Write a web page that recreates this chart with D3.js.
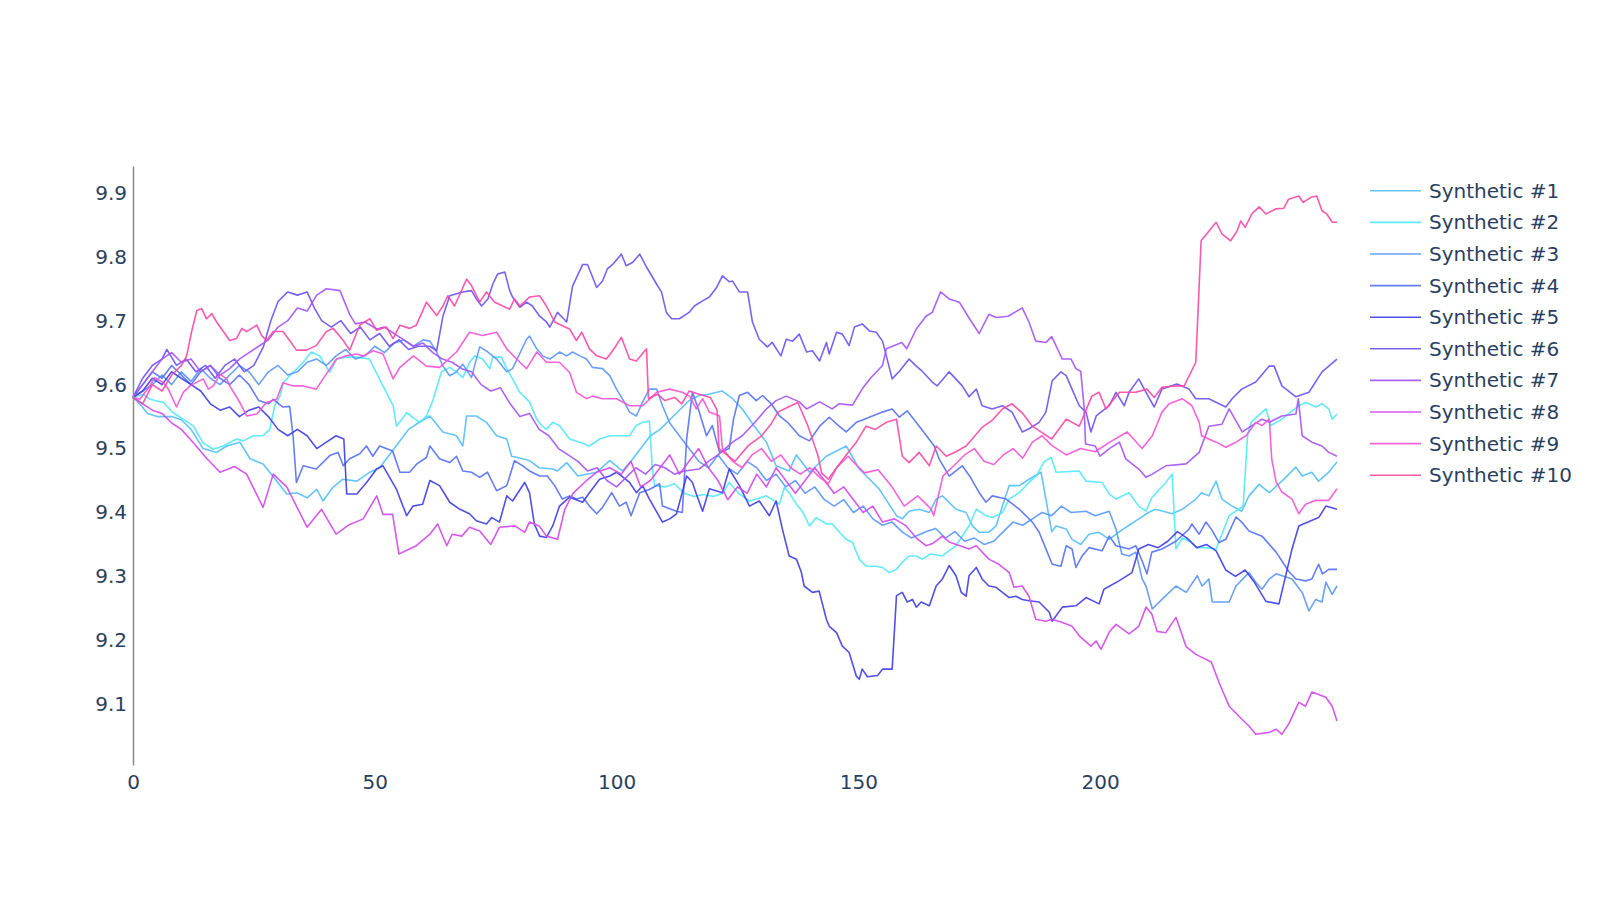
<!DOCTYPE html>
<html><head><meta charset="utf-8">
<script src="https://cdn.jsdelivr.net/npm/d3@7/dist/d3.min.js"></script>
<style>
html,body{margin:0;padding:0;background:#fff;}
svg{display:block;font-family:"DejaVu Sans",Verdana,sans-serif;}
</style></head><body>
<svg id="chart" width="1600" height="900"></svg>
<script>
const seriesNames = ["Synthetic #1","Synthetic #2","Synthetic #3","Synthetic #4","Synthetic #5","Synthetic #6","Synthetic #7","Synthetic #8","Synthetic #9","Synthetic #10"];
const seriesColors = ["#52bffa","#4fe8fa","#5a96fa","#5470f5","#3d3de6","#6e50f5","#a352f5","#d247eb","#f552d5","#fa47a5"];
const xTicks = [0,50,100,150,200];
const yTicks = [9.1,9.2,9.3,9.4,9.5,9.6,9.7,9.8,9.9];

const s1 = [[0,9.58],[1.4,9.57],[3,9.555],[5,9.55],[8,9.55],[10,9.545],[12,9.53],[14.5,9.5],[17.3,9.494],[19.4,9.504],[22.1,9.51],[24.2,9.484],[26.9,9.476],[28.9,9.457],[31.8,9.429],[33.9,9.431],[36,9.423],[38,9.436],[39.3,9.418],[41.3,9.439],[43.4,9.452],[46.3,9.449],[49,9.463],[51,9.47],[53,9.49],[55,9.51],[57,9.53],[59,9.54],[61.4,9.551],[64.1,9.526],[66.9,9.52],[68.2,9.504],[69,9.551],[71,9.551],[73.1,9.541],[75.2,9.52],[77.3,9.515],[78.3,9.488],[80.6,9.484],[82,9.481],[84,9.47],[86.8,9.468],[87.8,9.465],[89.7,9.478],[92,9.457],[95.9,9.463],[98.6,9.481],[101.2,9.465],[103,9.48],[105,9.5],[107,9.52],[109,9.53],[111,9.545],[113,9.56],[115,9.575],[117.1,9.583],[119,9.585],[121.9,9.59],[124,9.578],[126,9.562],[128.5,9.535],[131,9.51],[133,9.473],[135.7,9.465],[137.2,9.49],[139.9,9.463],[143.4,9.488],[147.5,9.504],[150.2,9.468],[154.3,9.437],[157.9,9.395],[159.1,9.39],[160.5,9.402],[162.6,9.405],[164.7,9.4],[166.1,9.421],[167.4,9.426],[170.2,9.405],[172.3,9.4],[173.6,9.379],[175,9.369],[177,9.369],[178.5,9.379],[179.8,9.41],[181.2,9.442],[183.3,9.442],[185.3,9.452],[187.8,9.463],[190,9.37],[190.9,9.379],[193,9.374],[194.2,9.358],[196,9.35],[197.7,9.366],[199.8,9.369],[201.9,9.358],[204,9.37],[206,9.38],[208,9.39],[210,9.4],[211.5,9.405],[214.9,9.398],[217,9.405],[219.8,9.421],[221,9.431],[222.5,9.426],[224,9.449],[225.2,9.421],[227.3,9.41],[229.3,9.402],[230.8,9.426],[232.9,9.444],[235,9.431],[237.6,9.449],[240.5,9.471],[241.8,9.457],[243.8,9.463],[245.2,9.449],[247.3,9.463],[249,9.479]];
const s2 = [[0,9.58],[2.1,9.585],[3.5,9.577],[6.3,9.572],[8.3,9.556],[10.4,9.546],[12.5,9.535],[14.5,9.509],[16.6,9.499],[18.7,9.504],[21.4,9.515],[22.8,9.512],[24.9,9.52],[26.9,9.52],[28.3,9.53],[29.3,9.567],[30.4,9.582],[31.1,9.603],[32.4,9.614],[33.8,9.624],[35.2,9.635],[36.9,9.651],[38.6,9.645],[40.7,9.619],[42.1,9.64],[44.1,9.643],[46.2,9.643],[48.9,9.64],[50.3,9.619],[51.7,9.598],[53.8,9.567],[54.5,9.535],[56.6,9.556],[58,9.548],[59.3,9.541],[60.7,9.551],[62.1,9.577],[63.8,9.62],[65.5,9.627],[66.9,9.62],[68.2,9.611],[69.6,9.635],[70.7,9.645],[72.3,9.64],[73.8,9.625],[74.4,9.643],[76.2,9.643],[77.3,9.625],[78.5,9.609],[80,9.588],[82,9.573],[83.5,9.546],[84.5,9.536],[85.5,9.53],[86.8,9.541],[88.2,9.536],[90.3,9.515],[92.4,9.51],[94.4,9.504],[96.5,9.515],[98.6,9.52],[102.7,9.52],[104.1,9.536],[105.4,9.541],[106.8,9.543],[107.4,9.468],[107.9,9.442],[110,9.44],[112,9.445],[114,9.43],[116,9.425],[118,9.428],[120,9.425],[122,9.43],[123.3,9.447],[125.4,9.429],[127.5,9.418],[131,9.426],[133.7,9.413],[134.7,9.439],[135.7,9.431],[137.2,9.413],[138.4,9.402],[139.9,9.379],[141.3,9.392],[143.4,9.382],[144.6,9.382],[146.1,9.369],[147.5,9.358],[148.8,9.353],[150.2,9.327],[151.6,9.316],[153.7,9.316],[155,9.314],[156.4,9.306],[157.9,9.311],[159.1,9.322],[160.5,9.332],[162,9.332],[163.2,9.327],[165,9.335],[167.4,9.332],[170.2,9.348],[172.9,9.379],[174.4,9.405],[176.4,9.395],[177.7,9.392],[179.8,9.4],[181.2,9.421],[183.3,9.431],[185.3,9.447],[186.8,9.457],[188.5,9.48],[189.9,9.486],[190.9,9.463],[195.7,9.465],[197.1,9.449],[200.4,9.447],[201.9,9.429],[203.3,9.421],[206,9.431],[208,9.41],[209.5,9.402],[210.7,9.423],[213.6,9.447],[214.9,9.46],[215.7,9.343],[217,9.36],[218.5,9.355],[220,9.345],[222,9.345],[224,9.343],[226.7,9.395],[228.7,9.405],[229.6,9.41],[230.5,9.52],[231.2,9.541],[233.5,9.557],[234.3,9.562],[235.3,9.536],[237.6,9.546],[241.1,9.567],[242.6,9.572],[244.6,9.565],[245.9,9.57],[247.3,9.562],[248,9.546],[249,9.554]];
const s3 = [[0,9.58],[2,9.59],[4,9.6],[6,9.615],[8,9.6],[10,9.62],[12,9.605],[14,9.625],[16,9.61],[18,9.6],[20,9.615],[22,9.63],[24,9.62],[26,9.6],[28,9.62],[30,9.63],[32,9.615],[34,9.62],[36,9.635],[38,9.64],[40,9.63],[42,9.645],[44,9.655],[46,9.64],[48,9.645],[50,9.66],[52,9.65],[54,9.665],[56,9.67],[58,9.66],[60,9.67],[61.4,9.668],[62.8,9.651],[64.1,9.629],[65.5,9.614],[66.9,9.62],[68.2,9.632],[70,9.611],[71.7,9.659],[73.4,9.651],[75.2,9.64],[77.3,9.62],[78.5,9.625],[81.4,9.671],[82,9.676],[83.5,9.656],[84.7,9.645],[86.2,9.64],[88.2,9.651],[89.7,9.645],[90.9,9.651],[92.4,9.645],[93.8,9.64],[95,9.627],[97.1,9.625],[98.6,9.614],[100,9.593],[101.2,9.578],[102.7,9.557],[104.1,9.551],[105.4,9.573],[106.8,9.593],[108.3,9.593],[109.5,9.567],[111,9.54],[113,9.52],[115,9.5],[117,9.48],[119,9.47],[121,9.49],[123,9.47],[125,9.46],[127,9.48],[129,9.47],[131,9.45],[133,9.46],[135,9.44],[137,9.45],[139,9.43],[141,9.44],[143,9.42],[145,9.41],[147,9.42],[149,9.4],[151,9.41],[153,9.39],[155,9.38],[157,9.385],[159,9.37],[161,9.36],[164,9.37],[166,9.375],[168,9.36],[170,9.37],[172,9.355],[174,9.36],[176,9.35],[178,9.355],[180,9.37],[182,9.385],[184,9.38],[186,9.39],[188,9.4],[190,9.395],[192,9.41],[194,9.4],[197.1,9.402],[199,9.395],[201.9,9.402],[203.3,9.374],[204.5,9.335],[206,9.332],[207.4,9.338],[208.7,9.296],[209.5,9.285],[210.8,9.249],[212.8,9.264],[215.7,9.285],[217.8,9.275],[220.1,9.301],[221.1,9.285],[222.5,9.296],[223.2,9.26],[226.7,9.26],[228.1,9.285],[230.8,9.306],[232.2,9.291],[233.5,9.28],[235,9.296],[236.4,9.304],[239.7,9.296],[241.8,9.275],[243.2,9.246],[244.6,9.264],[245.9,9.26],[246.7,9.291],[248,9.272],[249,9.285]];
const s4 = [[0,9.58],[2,9.6],[4,9.62],[6,9.61],[8,9.63],[10,9.615],[12,9.6],[14,9.62],[16,9.63],[18,9.61],[20,9.6],[22,9.615],[24,9.6],[26,9.575],[28,9.57],[29,9.577],[31,9.565],[32.4,9.566],[33.1,9.52],[33.8,9.447],[35.2,9.473],[37.9,9.468],[40.7,9.489],[42.4,9.494],[43.5,9.473],[44.8,9.484],[46.9,9.492],[48.3,9.504],[49.6,9.488],[51,9.504],[53.7,9.496],[55.2,9.463],[57.2,9.463],[58.7,9.476],[60.7,9.486],[61.4,9.504],[63.4,9.484],[65.5,9.478],[66.9,9.488],[68.2,9.465],[70,9.463],[71.7,9.455],[73.3,9.463],[75.2,9.434],[77.3,9.442],[78.9,9.481],[80.6,9.473],[82,9.465],[84.1,9.457],[85.7,9.457],[87.2,9.442],[88.8,9.421],[90.3,9.426],[91.7,9.421],[93,9.424],[94.4,9.41],[95.9,9.398],[97.1,9.408],[99,9.431],[100.6,9.41],[102,9.416],[103,9.395],[104.8,9.431],[106.8,9.436],[108.9,9.445],[109.5,9.41],[112.4,9.402],[113.6,9.4],[114.5,9.515],[115.7,9.588],[117,9.56],[118.6,9.52],[119.8,9.536],[121.3,9.494],[123.3,9.5],[124.2,9.546],[125.4,9.583],[127.1,9.588],[128.9,9.575],[130.2,9.583],[132,9.57],[133.7,9.551],[135.5,9.54],[137.8,9.52],[139.9,9.512],[142,9.535],[144,9.549],[146,9.535],[147.5,9.526],[149.6,9.541],[151,9.545],[152.9,9.551],[155,9.557],[157,9.562],[158.5,9.549],[160.1,9.559],[162.6,9.535],[165.7,9.504],[166.7,9.484],[168.8,9.457],[171.5,9.473],[173.2,9.455],[175,9.431],[176.4,9.416],[177.7,9.426],[180.6,9.421],[183.3,9.405],[186,9.385],[187.4,9.369],[188.8,9.343],[190.1,9.319],[191.9,9.316],[193,9.348],[194.2,9.343],[195,9.314],[196.3,9.332],[197.7,9.345],[200.4,9.34],[201.9,9.363],[203.3,9.348],[206,9.343],[207.4,9.348],[208.7,9.324],[209.7,9.304],[210.7,9.338],[212.8,9.343],[215.7,9.355],[218.4,9.374],[219,9.382],[220.5,9.366],[221.9,9.385],[223,9.374],[224.6,9.353],[226,9.358],[228.1,9.393],[229.3,9.385],[230.8,9.371],[233.5,9.363],[236.4,9.338],[239,9.308],[240.5,9.296],[242.5,9.293],[243.8,9.296],[245.2,9.319],[246,9.304],[247.3,9.311],[249,9.311]];
const s5 = [[0,9.58],[2,9.59],[4,9.61],[6,9.6],[8,9.62],[10,9.61],[12,9.6],[14,9.59],[16,9.57],[18,9.56],[20,9.565],[22,9.55],[24,9.56],[26,9.565],[28,9.55],[30,9.53],[32,9.52],[34,9.53],[36,9.52],[38,9.5],[40,9.51],[42,9.52],[43.6,9.515],[44.2,9.429],[46.3,9.429],[48.3,9.447],[50.4,9.468],[51.7,9.473],[54.5,9.436],[56.6,9.395],[57.9,9.41],[59.9,9.413],[61.4,9.45],[63.4,9.442],[65.5,9.416],[67.6,9.405],[69.6,9.398],[71,9.387],[73.1,9.382],[74.2,9.392],[75.8,9.385],[77.3,9.426],[78.5,9.418],[81,9.447],[82,9.431],[83,9.382],[84.1,9.363],[85.5,9.361],[86.8,9.379],[88.2,9.41],[90.3,9.424],[93,9.416],[94.4,9.431],[96.5,9.452],[98.6,9.457],[100,9.463],[102.7,9.447],[104.1,9.431],[105.4,9.442],[106.8,9.421],[109.5,9.385],[111,9.39],[112.4,9.398],[114.5,9.457],[115.7,9.447],[116.5,9.429],[117.8,9.402],[119.2,9.437],[121.9,9.431],[123.3,9.468],[125.4,9.442],[127.5,9.41],[129.5,9.418],[131.6,9.395],[133,9.418],[134.3,9.374],[135.7,9.332],[137.2,9.327],[138.2,9.307],[138.8,9.285],[140.5,9.275],[141.9,9.277],[143.4,9.233],[144,9.222],[145.5,9.212],[146.7,9.191],[148.1,9.181],[149.6,9.144],[150.2,9.139],[150.8,9.155],[151.9,9.143],[154,9.145],[155,9.155],[157,9.155],[157.9,9.27],[159.1,9.275],[160.1,9.26],[161.2,9.264],[162,9.252],[163,9.26],[164.7,9.254],[166.1,9.285],[167.4,9.296],[168.8,9.317],[170.2,9.301],[171.3,9.275],[172.3,9.269],[172.9,9.301],[174.4,9.314],[175.6,9.296],[177,9.285],[178.5,9.283],[181.2,9.267],[182.6,9.269],[183.9,9.264],[185.3,9.262],[187.4,9.26],[189.5,9.244],[190.1,9.23],[192.2,9.252],[195,9.254],[197.1,9.267],[199.8,9.257],[200.8,9.28],[203.9,9.293],[206.6,9.306],[207.4,9.327],[208,9.343],[210,9.35],[212,9.345],[214,9.355],[216,9.37],[218,9.36],[220,9.345],[222,9.35],[224,9.34],[226,9.31],[228,9.3],[230,9.31],[232,9.29],[234.3,9.261],[237,9.257],[239.7,9.343],[241.1,9.379],[243,9.385],[245.2,9.392],[246.7,9.41],[249,9.405]];
const s6 = [[0,9.58],[2,9.61],[4,9.63],[6,9.64],[7,9.655],[9,9.63],[11,9.64],[13,9.62],[15,9.63],[17,9.61],[19,9.63],[21,9.64],[23,9.62],[25,9.63],[27,9.66],[28.5,9.7],[30,9.73],[32,9.745],[34,9.74],[36,9.745],[37.5,9.72],[39,9.7],[41,9.69],[43,9.7],[45,9.68],[47,9.69],[49,9.67],[51,9.68],[53,9.66],[55,9.67],[57,9.655],[59,9.66],[61.4,9.66],[62.8,9.653],[64.1,9.707],[65.5,9.739],[68.2,9.745],[70,9.747],[71,9.734],[72.1,9.723],[73.4,9.734],[74.4,9.757],[75.4,9.773],[76.9,9.776],[77.9,9.747],[78.5,9.737],[80,9.721],[81.4,9.729],[82.6,9.723],[84.1,9.707],[85.5,9.698],[86.2,9.69],[87.8,9.713],[89.7,9.698],[90.9,9.754],[93,9.788],[94,9.788],[95.9,9.752],[97.1,9.762],[98.1,9.781],[99.2,9.788],[101,9.804],[102,9.786],[103.3,9.791],[104.8,9.804],[106.2,9.784],[108.3,9.757],[109.3,9.745],[110.3,9.713],[111.4,9.703],[113,9.703],[115,9.713],[116.1,9.723],[117.8,9.731],[119.2,9.737],[120.7,9.752],[121.9,9.77],[123.3,9.761],[124,9.762],[125.4,9.745],[127.1,9.745],[128.1,9.698],[129.5,9.671],[131.2,9.659],[132.2,9.666],[134,9.645],[135.1,9.671],[136.4,9.668],[137.8,9.679],[139.3,9.651],[140.5,9.653],[142,9.637],[143.4,9.666],[144,9.648],[145.5,9.682],[146.7,9.679],[148.1,9.661],[149.2,9.69],[150.8,9.695],[152.3,9.684],[153.7,9.682],[155,9.668],[155.8,9.645],[157,9.609],[158.5,9.621],[160.5,9.64],[162,9.629],[163.2,9.621],[165.3,9.604],[166.3,9.598],[168.8,9.62],[171.5,9.598],[172.9,9.581],[174.4,9.593],[175.6,9.567],[177.7,9.562],[179.8,9.567],[181.8,9.557],[183.9,9.526],[185.3,9.531],[187.4,9.541],[188.8,9.557],[190.1,9.606],[191.9,9.62],[193,9.614],[194.2,9.593],[195.7,9.567],[197.1,9.557],[198.1,9.526],[199.2,9.551],[201.9,9.567],[203.3,9.588],[205,9.567],[206,9.588],[208,9.609],[209.5,9.588],[211.2,9.565],[212.8,9.593],[215.9,9.601],[218.4,9.593],[219.8,9.578],[222.5,9.578],[226,9.565],[227.3,9.578],[229.3,9.593],[232.2,9.604],[235,9.629],[236,9.629],[237.6,9.598],[240.5,9.581],[243.2,9.588],[245.9,9.62],[249,9.64]];
const s7 = [[0,9.58],[2,9.6],[4,9.62],[6,9.64],[8,9.65],[10,9.635],[12,9.64],[14,9.62],[16,9.63],[18,9.615],[20,9.625],[22,9.64],[24,9.65],[26,9.66],[28,9.67],[30,9.69],[32,9.7],[34,9.72],[36,9.715],[38,9.74],[40,9.75],[42.8,9.747],[44.8,9.71],[46,9.695],[48,9.698],[50.4,9.687],[52,9.69],[54,9.68],[56,9.67],[58,9.66],[60,9.665],[62,9.65],[64,9.64],[66,9.635],[68,9.625],[70,9.62],[72,9.6],[74,9.59],[76,9.595],[78,9.57],[80,9.55],[82,9.555],[84,9.53],[86,9.52],[88,9.5],[90,9.49],[92,9.48],[94,9.465],[96,9.47],[98,9.45],[100,9.44],[102,9.455],[104,9.47],[106,9.46],[108,9.475],[110,9.47],[112,9.46],[114,9.465],[117.1,9.468],[119,9.48],[121,9.49],[124,9.51],[126,9.52],[128.5,9.54],[131,9.562],[133,9.575],[135.1,9.582],[137.8,9.573],[139.3,9.562],[142,9.573],[144.6,9.562],[146,9.57],[148.8,9.568],[150.8,9.593],[152.5,9.61],[155,9.63],[155.8,9.656],[159,9.666],[160,9.656],[162,9.687],[164,9.707],[165.3,9.713],[167,9.745],[168.8,9.734],[170.9,9.729],[173,9.703],[175,9.68],[177,9.71],[178.5,9.705],[181,9.707],[183.9,9.72],[185.3,9.698],[186.7,9.668],[188.8,9.666],[190,9.675],[191.5,9.651],[192.2,9.64],[194,9.64],[195,9.625],[196,9.621],[196.7,9.565],[197,9.507],[199,9.504],[200,9.488],[201.9,9.5],[204,9.51],[205.3,9.484],[208,9.468],[209.5,9.455],[210.8,9.46],[213.6,9.473],[217.8,9.476],[220.5,9.494],[222.5,9.535],[225.2,9.538],[226.7,9.562],[229.4,9.526],[233.5,9.546],[235,9.541],[237.6,9.551],[240.5,9.554],[241,9.578],[241.8,9.52],[243.8,9.51],[245.9,9.504],[247.3,9.494],[249,9.488]];
const s8 = [[0,9.58],[2,9.57],[4,9.56],[6,9.555],[8,9.54],[10,9.53],[11.8,9.515],[13.5,9.5],[15.3,9.484],[18,9.463],[21,9.472],[23.5,9.46],[26.9,9.408],[29,9.46],[31.8,9.44],[36,9.377],[39,9.405],[42,9.366],[44.5,9.38],[47.6,9.39],[50.4,9.426],[51.7,9.397],[53.7,9.397],[55,9.335],[58.6,9.348],[61.4,9.366],[63,9.382],[64.9,9.348],[66,9.366],[68,9.363],[69.6,9.377],[71.7,9.371],[74,9.35],[75.8,9.377],[79,9.379],[81,9.369],[82,9.385],[84,9.379],[85.5,9.363],[87.8,9.358],[89.3,9.405],[91,9.43],[93.8,9.45],[95.9,9.463],[98.6,9.47],[101,9.46],[103,9.48],[105,9.44],[107,9.45],[109,9.47],[111,9.49],[113,9.46],[115,9.48],[117,9.5],[119,9.47],[121,9.45],[123,9.42],[125,9.44],[127,9.43],[129,9.46],[131,9.44],[133,9.47],[135,9.45],[137,9.43],[139,9.45],[141,9.47],[143,9.45],[145,9.43],[147,9.44],[149,9.42],[151,9.4],[153,9.41],[155,9.385],[157.5,9.39],[159.9,9.379],[162,9.36],[164,9.348],[165.5,9.352],[167.4,9.363],[168.8,9.354],[172.9,9.343],[174.4,9.348],[177,9.327],[179.1,9.319],[181.2,9.306],[182.2,9.283],[183.9,9.285],[185.3,9.269],[186.7,9.233],[188.8,9.23],[190,9.233],[192.2,9.228],[194.2,9.222],[195.7,9.207],[198.1,9.191],[199.2,9.199],[200.2,9.186],[201.9,9.213],[203.3,9.225],[206,9.21],[208,9.222],[209.5,9.252],[210.7,9.241],[211.8,9.214],[213.6,9.212],[215.7,9.236],[217.8,9.19],[219.8,9.178],[223,9.166],[224.6,9.134],[226.7,9.097],[229.3,9.077],[230.8,9.066],[232.2,9.053],[235,9.056],[236.4,9.061],[237.6,9.053],[239,9.069],[241.1,9.103],[242.5,9.097],[243.8,9.119],[246.7,9.111],[248,9.097],[249,9.074]];
const s9 = [[0,9.58],[1.4,9.577],[3.5,9.598],[4.5,9.611],[6.3,9.603],[7.3,9.593],[9,9.565],[10.4,9.588],[11.8,9.598],[14.5,9.609],[15.6,9.593],[16.6,9.598],[18,9.616],[19.4,9.609],[20,9.598],[22.1,9.572],[23.5,9.551],[25.6,9.554],[27.6,9.572],[29.7,9.577],[31,9.603],[33.1,9.598],[35.2,9.598],[37.9,9.593],[39.3,9.609],[42.1,9.64],[44.1,9.645],[46.2,9.648],[47.6,9.645],[49.7,9.653],[51.7,9.648],[53.8,9.609],[55.2,9.627],[58,9.645],[60.7,9.629],[63.4,9.627],[66.9,9.651],[69.6,9.682],[72.3,9.677],[75.2,9.682],[77.3,9.656],[80,9.635],[81.4,9.625],[83.5,9.651],[85.5,9.635],[88.2,9.635],[90.3,9.619],[91.7,9.588],[93.8,9.578],[95,9.582],[97.1,9.578],[100,9.578],[102.7,9.567],[105.4,9.567],[108.3,9.588],[111,9.593],[113.6,9.588],[115.1,9.582],[116.5,9.562],[117.8,9.578],[119.2,9.557],[121.3,9.551],[121.9,9.5],[124,9.48],[126,9.47],[128,9.49],[130,9.5],[132,9.48],[134,9.49],[136,9.47],[138,9.46],[140,9.47],[142,9.455],[143.8,9.445],[145.5,9.47],[147.9,9.488],[149.5,9.475],[151.3,9.462],[154.1,9.467],[156.8,9.442],[159.5,9.41],[162.3,9.426],[165.1,9.405],[165.6,9.395],[167.5,9.457],[170,9.475],[172,9.49],[174,9.5],[176,9.48],[178,9.475],[180,9.49],[182,9.5],[184,9.485],[186,9.51],[188,9.52],[190,9.505],[193,9.49],[196,9.5],[199,9.495],[202,9.51],[205.6,9.526],[208.7,9.5],[210.8,9.52],[212.8,9.557],[214.3,9.57],[217,9.578],[219,9.567],[220.5,9.541],[221,9.52],[224,9.51],[226,9.502],[228.1,9.51],[230.2,9.52],[232.2,9.541],[233.5,9.536],[235,9.546],[235.5,9.484],[236.4,9.448],[237.6,9.432],[239.7,9.421],[241.1,9.398],[242.5,9.413],[244.6,9.419],[247.3,9.419],[249,9.437]];
const s10 = [[0,9.58],[2,9.57],[4,9.6],[6,9.59],[8,9.615],[10,9.63],[11.1,9.645],[12.1,9.682],[13.2,9.716],[14.2,9.719],[15.2,9.703],[16.3,9.711],[17.3,9.698],[20,9.669],[21.4,9.672],[22.5,9.688],[23.5,9.683],[25.6,9.693],[26.6,9.677],[27.6,9.669],[29,9.683],[31,9.683],[32.4,9.669],[33.8,9.654],[35.9,9.654],[37.9,9.661],[40,9.683],[41.4,9.688],[43.5,9.669],[44.8,9.654],[46.9,9.693],[49,9.703],[50.4,9.685],[52.4,9.69],[53.8,9.672],[55.2,9.693],[57.2,9.688],[58.6,9.693],[60.7,9.729],[62.8,9.708],[64.1,9.723],[65.1,9.739],[66.5,9.723],[69,9.765],[70,9.755],[71.7,9.729],[73.1,9.745],[74.8,9.729],[77.9,9.718],[78.9,9.734],[80,9.723],[82,9.737],[84.1,9.739],[85.5,9.723],[87.2,9.698],[88.8,9.692],[90.3,9.687],[91.7,9.669],[92.8,9.682],[94.4,9.656],[95.9,9.645],[97.9,9.64],[99.2,9.653],[101,9.674],[102.7,9.64],[104.1,9.637],[106.2,9.656],[106.6,9.578],[108.5,9.585],[110,9.575],[112,9.58],[113.5,9.57],[115,9.59],[117.1,9.585],[119.4,9.58],[120.8,9.56],[121.2,9.5],[124.5,9.48],[127.3,9.505],[130,9.52],[132,9.539],[133.4,9.557],[135.5,9.565],[137.5,9.572],[139.6,9.535],[141.7,9.488],[142.4,9.462],[143.8,9.452],[145.5,9.47],[147.5,9.49],[149.6,9.51],[151.6,9.535],[153.5,9.53],[155.8,9.541],[157.9,9.546],[159.1,9.488],[160.5,9.478],[162.6,9.494],[164.7,9.473],[166.1,9.504],[168.2,9.488],[170.2,9.495],[172.3,9.504],[175.6,9.533],[177.8,9.545],[179.8,9.562],[181.8,9.57],[184,9.555],[186,9.535],[188,9.525],[190,9.515],[193,9.546],[195.7,9.535],[198.3,9.582],[199.8,9.588],[201.2,9.562],[204,9.588],[207.4,9.588],[209.7,9.593],[211.2,9.58],[212.8,9.596],[215.7,9.598],[217.4,9.598],[219.8,9.635],[220.9,9.825],[222.5,9.84],[224,9.854],[225.2,9.836],[227,9.825],[228.3,9.84],[229.1,9.856],[230,9.846],[231.4,9.867],[232.9,9.878],[234.3,9.867],[236.4,9.875],[238,9.876],[239,9.89],[241.1,9.895],[242,9.885],[243.6,9.893],[244.8,9.895],[245.9,9.872],[246.9,9.867],[248,9.854],[249,9.854]];
const seriesData = [s1,s2,s3,s4,s5,s6,s7,s8,s9,s10];

const W = 1600, H = 900;
const plot = {left:133, right:1337, top:166, bottom:765};
const textColor = "#2a3f5f";
const fontSize = 20;

const svg = d3.select("#chart");
const x = d3.scaleLinear().domain([0,249]).range([plot.left, plot.right]);
const y = d3.scaleLinear().domain([9.005, 9.942]).range([plot.bottom, plot.top]);

const line = d3.line().x(d => x(d[0])).y(d => y(d[1]));

const gLines = svg.append("g");
seriesData.forEach((s,i) => {
  gLines.append("path").datum(s)
    .attr("d", line)
    .attr("fill","none")
    .attr("stroke", seriesColors[i])
    .attr("stroke-width", 1.6)
    .attr("stroke-opacity", 0.9)
    .attr("stroke-linejoin","round");
});

const yAxis = d3.axisLeft(y).tickValues(yTicks).tickSize(0).tickSizeOuter(0).tickPadding(6).tickFormat(d3.format(".1f"));
const gy = svg.append("g").attr("transform", `translate(${plot.left},0)`).call(yAxis);
gy.select(".domain").attr("stroke","#8a8a8a").attr("stroke-width",1.5);
gy.selectAll("text").attr("fill", textColor).style("font-size", fontSize+"px").style("font-family",'"DejaVu Sans",Verdana,sans-serif');

const xAxis = d3.axisBottom(x).tickValues(xTicks).tickSize(0).tickPadding(10).tickFormat(d3.format("d"));
const gx = svg.append("g").attr("transform", `translate(0,${plot.bottom})`).call(xAxis);
gx.select(".domain").remove();
gx.selectAll("text").attr("fill", textColor).style("font-size", fontSize+"px").style("font-family",'"DejaVu Sans",Verdana,sans-serif');

const legend = svg.append("g");
const legTop = 190.8, legStep = 31.6;
seriesNames.forEach((name,i) => {
  const cy = legTop + i*legStep;
  legend.append("line").attr("x1",1370).attr("x2",1421).attr("y1",cy).attr("y2",cy)
    .attr("stroke", seriesColors[i]).attr("stroke-width",1.6).attr("stroke-opacity",0.9);
  legend.append("text").attr("x",1429).attr("y",cy).attr("dy","0.35em")
    .attr("fill", textColor).style("font-size", fontSize+"px").text(name);
});
</script>
</body></html>
